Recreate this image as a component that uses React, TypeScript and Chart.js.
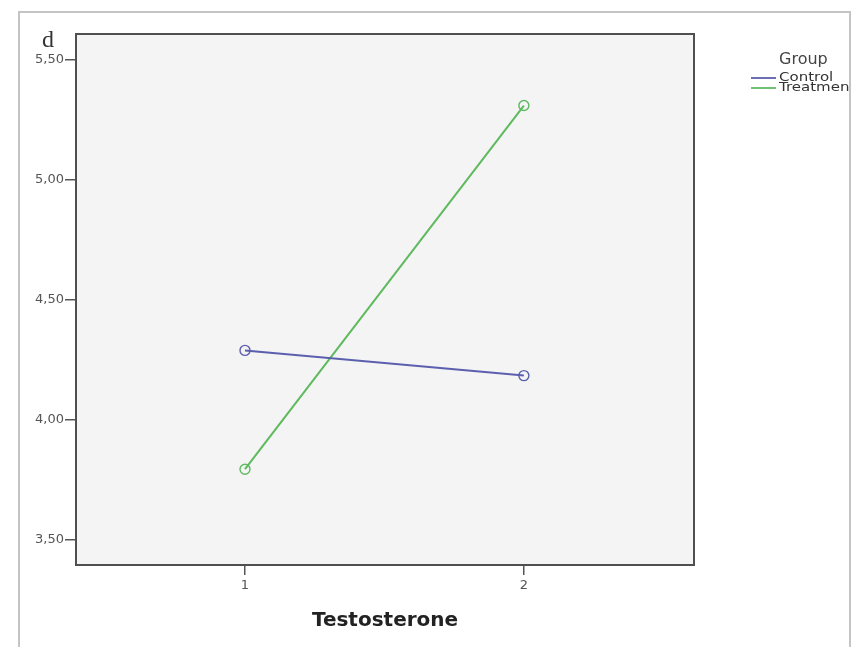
import React, { useEffect, useRef } from "react";
import { Chart, registerables } from "chart.js";

Chart.register(...registerables);

const xCategories = [1, 2];
const controlValues = [4.29, 4.185];
const treatmentValues = [3.795, 5.31];
const yTicks = [3.5, 4.0, 4.5, 5.0, 5.5];
const seriesNames = ["Control", "Treatment"];
const seriesColors = ["#5c5fae", "#5fb95f"];
const legendTitle = "Group";
const xTitle = "Testosterone";
const panelLabel = "d";

const fmt = (v: number) => v.toFixed(2).replace(".", ",");

const framePlugin = {
  id: "framePlugin",
  beforeDraw(chart: any) {
    const { ctx, chartArea: a, width, height } = chart;
    ctx.save();
    ctx.fillStyle = "#ffffff";
    ctx.fillRect(0, 0, width, height);
    ctx.strokeStyle = "#c4c4c4";
    ctx.lineWidth = 2;
    ctx.strokeRect(19, 12, 831, height + 20);
    ctx.fillStyle = "#f4f4f4";
    ctx.fillRect(a.left, a.top, a.right - a.left, a.bottom - a.top);
    ctx.restore();
  },
  afterDraw(chart: any) {
    const { ctx, chartArea: a } = chart;
    ctx.save();
    ctx.strokeStyle = "#4f4f4f";
    ctx.lineWidth = 2;
    ctx.strokeRect(a.left, a.top, a.right - a.left, a.bottom - a.top);

    ctx.fillStyle = "#333333";
    ctx.font = "24px 'Liberation Serif'";
    ctx.textBaseline = "alphabetic";
    ctx.textAlign = "left";
    ctx.fillText(panelLabel, 42, 47);

    ctx.beginPath();
    ctx.rect(20, 13, 829, 640);
    ctx.clip();
    ctx.font = "16px 'DejaVu Sans'";
    ctx.fillStyle = "#444444";
    ctx.textBaseline = "middle";
    ctx.fillText(legendTitle, 779, 60);
    seriesNames.forEach((name, i) => {
      const y = 78 + i * 10;
      ctx.strokeStyle = seriesColors[i];
      ctx.lineWidth = 1.8;
      ctx.beginPath();
      ctx.moveTo(751, y);
      ctx.lineTo(776, y);
      ctx.stroke();
      ctx.save();
      ctx.translate(779, y);
      ctx.scale(1.25, 1);
      ctx.font = "12px 'DejaVu Sans'";
      ctx.fillStyle = "#333333";
      ctx.fillText(name, 0, 0);
      ctx.restore();
    });
    ctx.restore();
  },
};

export default function App() {
  const ref = useRef<HTMLCanvasElement>(null);
  useEffect(() => {
    document.body.style.margin = "0";
    const mk = (i: number, vals: number[]) => ({
      label: seriesNames[i],
      data: xCategories.map((x, k) => ({ x, y: vals[k] })),
      showLine: true,
      borderColor: seriesColors[i],
      backgroundColor: "transparent",
      pointBorderColor: seriesColors[i],
      pointBackgroundColor: "transparent",
      borderWidth: 2,
      pointRadius: 5,
      pointBorderWidth: 1.4,
    });
    const c = new Chart(ref.current!, {
      type: "scatter",
      data: {
        datasets: [mk(0, controlValues), mk(1, treatmentValues)],
      },
      options: {
        responsive: false,
        animation: false,
        layout: { padding: { left: 0, right: 162, top: 34, bottom: 0 } },
        plugins: { legend: { display: false }, tooltip: { enabled: false } },
        scales: {
          x: {
            type: "linear",
            min: 0.394,
            max: 2.61,
            afterBuildTicks: (s: any) => {
              s.ticks = xCategories.map((v) => ({ value: v }));
            },
            afterFit: (s: any) => {
              s.height = 82;
            },
            grid: { drawOnChartArea: false, drawTicks: true, tickLength: 10, color: "#555555", lineWidth: 1.5 },
            border: { display: false },
            ticks: {
              color: "#555555",
              font: { family: "'DejaVu Sans'", size: 13 },
              padding: 3,
              callback: (v: any) => String(v),
            },
            title: {
              display: true,
              text: xTitle,
              color: "#222222",
              font: { family: "'DejaVu Sans'", size: 20, weight: "bold", lineHeight: 1.2 },
              padding: { top: 0, bottom: 14 },
            },
          },
          y: {
            min: 3.396,
            max: 5.608,
            afterBuildTicks: (s: any) => {
              s.ticks = yTicks.map((v) => ({ value: v }));
            },
            afterFit: (s: any) => {
              s.width = 76;
            },
            grid: { drawOnChartArea: false, drawTicks: true, tickLength: 11, color: "#555555", lineWidth: 1.5 },
            border: { display: false },
            ticks: {
              color: "#555555",
              font: { family: "'DejaVu Sans'", size: 13 },
              padding: 1,
              callback: (v: any) => fmt(Number(v)),
            },
          },
        },
      },
      plugins: [framePlugin],
    });
    return () => c.destroy();
  }, []);
  return <canvas ref={ref} width={856} height={647} style={{ display: "block" }} />;
}
